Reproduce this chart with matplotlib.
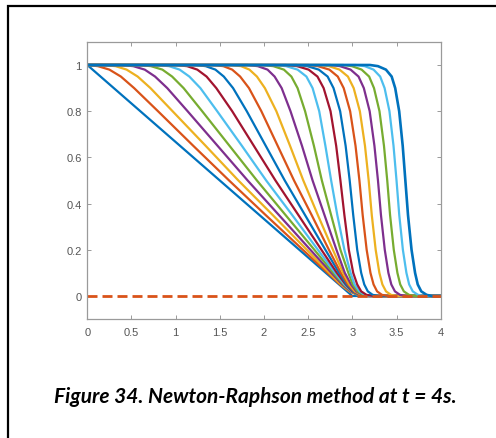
import matplotlib

matplotlib.use("Agg")
import matplotlib.pyplot as plt  # noqa: E402
from matplotlib.patches import Rectangle  # noqa: E402

levels = [1, 1, 0.995, 0.98, 0.95, 0.9, 0.8, 0.65, 0.5,
          0.35, 0.2, 0.1, 0.05, 0.02, 0.005, 0, 0]

# x position of each profile at those levels (t = 0.0, 0.2, ... 3.8 s)
x_t00 = [0, 0, 0.015, 0.06, 0.15, 0.30, 0.60, 1.05, 1.50, 1.95, 2.40, 2.70, 2.85, 2.94, 2.985, 3.00, 4.0]
x_t02 = [0, 0, 0.12, 0.25, 0.38, 0.53, 0.80, 1.20, 1.605, 2.02, 2.44, 2.72, 2.86, 2.965, 3.06, 3.15, 4.0]
x_t04 = [0, 0.17, 0.32, 0.445, 0.57, 0.715, 0.965, 1.34, 1.71, 2.10, 2.485, 2.74, 2.87, 2.97, 3.065, 3.16, 4.0]
x_t06 = [0, 0.375, 0.52, 0.65, 0.767, 0.905, 1.135, 1.475, 1.815, 2.17, 2.525, 2.763, 2.886, 2.98, 3.07, 3.17, 4.0]
x_t08 = [0, 0.58, 0.72, 0.85, 0.96, 1.09, 1.30, 1.61, 1.92, 2.245, 2.57, 2.785, 2.90, 2.99, 3.07, 3.16, 4.0]
x_t10 = [0, 0.78, 0.925, 1.045, 1.155, 1.28, 1.47, 1.75, 2.025, 2.32, 2.61, 2.805, 2.91, 2.995, 3.08, 3.17, 4.0]
x_t12 = [0, 0.99, 1.13, 1.245, 1.35, 1.46, 1.64, 1.885, 2.13, 2.39, 2.65, 2.825, 2.925, 3.00, 3.085, 3.18, 4.0]
x_t14 = [0, 1.22, 1.34, 1.45, 1.545, 1.65, 1.805, 2.02, 2.235, 2.465, 2.695, 2.85, 2.935, 3.01, 3.09, 3.17, 4.0]
x_t16 = [0, 1.42, 1.54, 1.64, 1.73, 1.83, 1.97, 2.155, 2.34, 2.54, 2.735, 2.87, 2.95, 3.02, 3.095, 3.17, 4.0]
x_t18 = [0, 1.62, 1.74, 1.835, 1.92, 2.01, 2.14, 2.295, 2.445, 2.61, 2.78, 2.895, 2.965, 3.03, 3.105, 3.18, 4.0]
x_t20 = [0, 1.81, 1.93, 2.04, 2.12, 2.20, 2.30, 2.43, 2.55, 2.685, 2.82, 2.915, 2.985, 3.045, 3.115, 3.19, 4.0]
x_t22 = [0, 1.975, 2.105, 2.225, 2.31, 2.38, 2.465, 2.565, 2.655, 2.76, 2.865, 2.955, 3.005, 3.06, 3.125, 3.20, 4.0]
x_t24 = [0, 2.12, 2.25, 2.38, 2.48, 2.55, 2.625, 2.695, 2.76, 2.83, 2.91, 2.98, 3.025, 3.08, 3.14, 3.21, 4.0]
x_t26 = [0, 2.245, 2.375, 2.505, 2.605, 2.675, 2.753, 2.817, 2.865, 2.91, 2.96, 3.01, 3.055, 3.10, 3.16, 3.24, 4.0]
x_t28 = [0, 2.37, 2.49, 2.62, 2.72, 2.787, 2.862, 2.924, 2.97, 3.01, 3.055, 3.10, 3.135, 3.175, 3.23, 3.30, 4.0]
x_t30 = [0, 2.50, 2.61, 2.74, 2.835, 2.902, 2.975, 3.036, 3.08, 3.117, 3.162, 3.205, 3.24, 3.28, 3.335, 3.405, 4.0]
x_t32 = [0, 2.625, 2.735, 2.855, 2.95, 3.015, 3.085, 3.143, 3.185, 3.22, 3.264, 3.306, 3.34, 3.381, 3.437, 3.505, 4.0]
x_t34 = [0, 2.75, 2.86, 2.98, 3.07, 3.13, 3.196, 3.25, 3.29, 3.324, 3.367, 3.408, 3.441, 3.482, 3.539, 3.605, 4.0]
x_t36 = [0, 2.895, 2.995, 3.105, 3.19, 3.245, 3.307, 3.358, 3.395, 3.427, 3.469, 3.51, 3.542, 3.583, 3.641, 3.705, 4.0]
x_t38 = [0, 3.04, 3.14, 3.24, 3.315, 3.365, 3.42, 3.466, 3.50, 3.531, 3.572, 3.612, 3.643, 3.684, 3.743, 3.805, 4.0]

# final profile at t = 4 s
x_t40 = [0, 3.20, 3.29, 3.38, 3.445, 3.485, 3.53, 3.57, 3.60, 3.63, 3.67, 3.71, 3.74, 3.78, 3.84, 3.90, 4.0]

# reference line
ref_x = [0, 4]
ref_y = [0, 0]

x_ticks = [0, 0.5, 1, 1.5, 2, 2.5, 3, 3.5, 4]
x_ticklabels = ["0", "0.5", "1", "1.5", "2", "2.5", "3", "3.5", "4"]
y_ticks = [0, 0.2, 0.4, 0.6, 0.8, 1]
y_ticklabels = ["0", "0.2", "0.4", "0.6", "0.8", "1"]

caption = "Figure 34. Newton-Raphson method at t = 4s."

family = [x_t00, x_t02, x_t04, x_t06, x_t08, x_t10, x_t12, x_t14, x_t16, x_t18,
          x_t20, x_t22, x_t24, x_t26, x_t28, x_t30, x_t32, x_t34, x_t36, x_t38]

# MATLAB default colour order
matlab_colors = ["#0072BD", "#D95319", "#EDB120", "#7E2F8E",
                 "#77AC30", "#4DBEEE", "#A2142F"]

fig = plt.figure(figsize=(4.96, 4.39), dpi=100)
fig.patch.set_facecolor("white")

# outer frame of the document figure
fig.patches.append(Rectangle((7.5 / 496, -0.05), 1.2, (439 - 6.5) / 439 + 0.05,
                             transform=fig.transFigure, fill=False,
                             edgecolor="black", linewidth=1.6))

ax = fig.add_axes([87.3 / 496, 1 - 320.1 / 439, 353.4 / 496, 277.2 / 439])

for i, xs in enumerate(family):
    ax.plot(xs, levels, color=matlab_colors[i % 7], linewidth=1.6,
            solid_joinstyle="round", solid_capstyle="round")

ax.plot(x_t40, levels, color=matlab_colors[0], linewidth=1.9,
        solid_joinstyle="round")
ax.plot(ref_x, ref_y, color=matlab_colors[1], linewidth=2.0,
        linestyle=(0, (3.6, 1.8)))

ax.set_xlim(0, 4)
ax.set_ylim(-0.1, 1.1)
ax.set_xticks(x_ticks)
ax.set_xticklabels(x_ticklabels)
ax.set_yticks(y_ticks)
ax.set_yticklabels(y_ticklabels)

grey = "#9a9a9a"
for sp in ax.spines.values():
    sp.set_color(grey)
    sp.set_linewidth(0.9)
ax.tick_params(direction="in", length=3, width=0.7, colors=grey,
               top=True, right=True, labelsize=8, labelcolor="#555555")
ax.tick_params(axis="x", pad=6)
ax.tick_params(axis="y", pad=4)
for lab in ax.get_xticklabels() + ax.get_yticklabels():
    lab.set_family(["Liberation Sans", "DejaVu Sans"])

fig.text(255 / 496, 1 - 397 / 439, caption, ha="center", va="center",
         fontsize=15, fontweight="bold", fontstyle="italic",
         family=["Lato", "DejaVu Sans"], color="black")

fig.savefig("out.png", dpi=100)
plt.close(fig)
